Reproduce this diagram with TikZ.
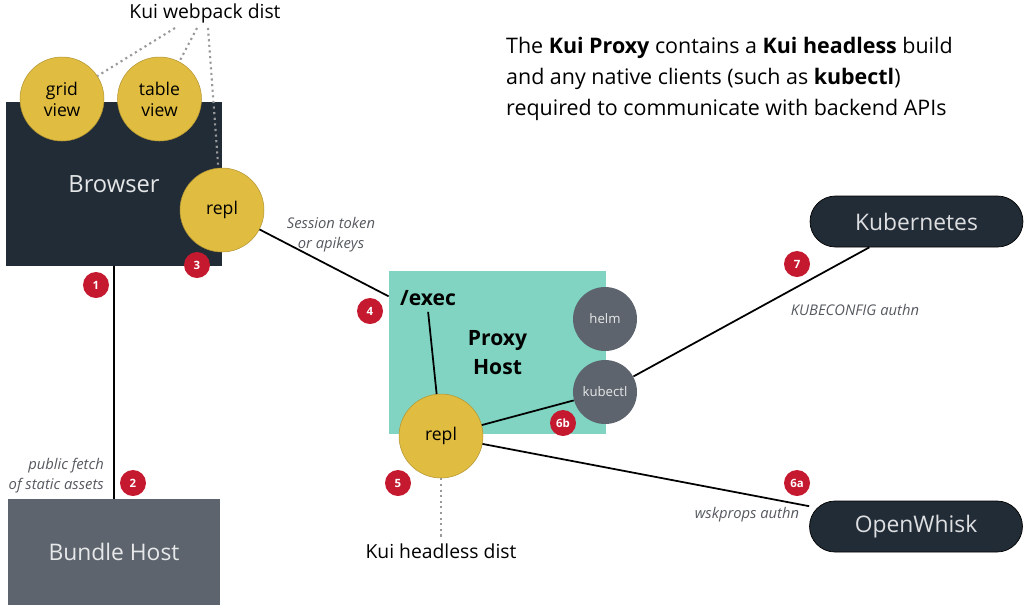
\documentclass[tikz,border=0pt]{standalone}
\usepackage{fontspec}
\setmainfont{Open Sans}
\usetikzlibrary{positioning}
\definecolor{navy}{HTML}{222C37}
\definecolor{gold}{HTML}{E0BC40}
\definecolor{mint}{HTML}{80D4C1}
\definecolor{slate}{HTML}{5D646D}
\definecolor{badgered}{HTML}{C4192F}
\definecolor{notegray}{HTML}{55595F}

\begin{document}
\begin{tikzpicture}[x=0.02cm, y=-0.02cm,
    box/.style={rectangle, inner sep=0pt, align=center, font=\fontsize{13.5}{16}\selectfont},
    gold circle/.style={circle, fill=gold, draw=gold!80!black, line width=0.3pt, minimum size=1.68cm, inner sep=0pt, align=center, font=\fontsize{10}{12}\selectfont},
    tool circle/.style={circle, fill=slate, text=white!85!slate, minimum size=1.28cm, inner sep=0pt, font=\fontsize{7.5}{9}\selectfont},
    pill/.style={rectangle, rounded corners=0.51cm, fill=navy, draw=black, minimum width=4.26cm, minimum height=1.02cm, text=white!85!navy, font=\fontsize{13}{16}\selectfont},
    badge/.style={circle, fill=badgered, text=white, minimum size=0.52cm, inner sep=0pt, font=\bfseries\fontsize{6.5}{7}\selectfont},
    note/.style={text=notegray, font=\itshape\fontsize{8.4}{11.5}\selectfont, align=center},
    dist/.style={draw=gray!80, dotted, line width=1.2pt},
    link/.style={draw=black, line width=1pt}]
  \useasboundingbox (0,0) rectangle (1024,610);

  % hosts
  \node[box, fill=navy, minimum width=4.32cm, minimum height=3.28cm, text=white!88!navy] (browser) at (114,184) {Browser};
  \node[box, fill=slate, minimum width=4.24cm, minimum height=2.12cm, text=white!85!slate, font=\fontsize{13}{16}\selectfont] (bundle) at (114,552) {Bundle Host};
  \node[box, fill=mint, minimum width=4.34cm, minimum height=3.26cm, font=\bfseries\fontsize{12}{16.5}\selectfont] (proxy) at (497.5,352.5) {Proxy\\Host};

  % components
  \node[gold circle] (grid) at (62,99) {grid\\view};
  \node[gold circle] (table) at (159.5,99) {table\\view};
  \node[gold circle] (brepl) at (222,210) {repl};
  \node[gold circle] (prepl) at (441,436) {repl};
  \node[tool circle] (helm) at (605,319) {helm};
  \node[tool circle] (kubectl) at (605,392) {kubectl};
  \node[pill] (k8s) at (916.5,221.5) {Kubernetes};
  \node[pill] (whisk) at (916,526.5) {OpenWhisk};

  % texts
  \node[font=\fontsize{11}{13}\selectfont] (webpack) at (205,13) {Kui webpack dist};
  \node[font=\fontsize{11}{13}\selectfont] (headless) at (441,551) {Kui headless dist};
  \node[anchor=west, font=\bfseries\fontsize{12}{14}\selectfont] (exec) at (394,298) {/exec};
  \node[anchor=north west, align=left, font=\fontsize{12.2}{17.6}\selectfont] (blurb) at (500,31)
    {The \textbf{Kui Proxy} contains a \textbf{Kui headless} build\\
     and any native clients (such as \textbf{kubectl})\\
     required to communicate with backend APIs};
  \node[note] (token) at (331,235) {Session token\\or apikeys};
  \node[note, align=right, anchor=east] (fetch) at (110,476) {public fetch\\of static assets};
  \node[note] (kubeauth) at (855,310) {KUBECONFIG authn};
  \node[note] (wskauth) at (747,515) {wskprops authn};

  % connectors
  \draw[link] (browser.south) -- (bundle.north);
  \draw[link] (brepl) -- (proxy);
  \draw[link] (exec.south) -- (prepl);
  \draw[link] (prepl) -- (kubectl);
  \draw[link] (prepl) -- (whisk);
  \draw[link] (kubectl) -- (k8s);

  \coordinate (wgrid) at (175,28);
  \coordinate (wtable) at (197,28);
  \coordinate (wrepl) at (208,28);
  \draw[dist] (wgrid) -- (grid.33);
  \draw[dist] (wtable) -- (table.62);
  \draw[dist] (wrepl) -- (brepl.95);
  \draw[dist] (prepl.south) -- (headless.north);

  % steps
  \node[badge] (s1) at (96,285) {1};
  \node[badge] (s2) at (133,483) {2};
  \node[badge] (s3) at (197,265) {3};
  \node[badge] (s4) at (370,311) {4};
  \node[badge] (s5) at (398,483) {5};
  \node[badge] (s6a) at (797,483) {6a};
  \node[badge] (s6b) at (563,423) {6b};
  \node[badge] (s7) at (797,264) {7};
\end{tikzpicture}
\end{document}
